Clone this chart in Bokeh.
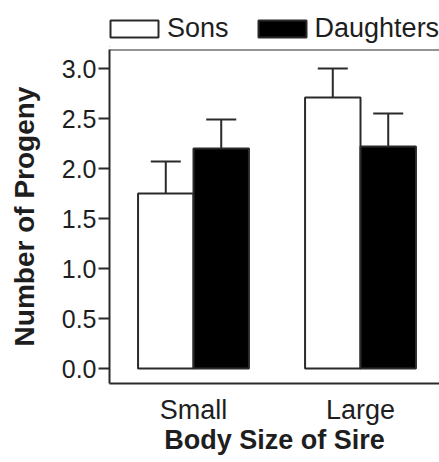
import numpy as np
from bokeh.plotting import figure
from bokeh.layouts import column
from bokeh.models import (ColumnDataSource, Range1d, FixedTicker, Whisker, TeeHead,
                          Legend, LegendItem, Span)
from bokeh.embed import file_html
from bokeh.resources import INLINE

categories = ["Small", "Large"]
sons = [1.75, 2.71]
sons_se = [0.32, 0.29]
daughters = [2.20, 2.22]
daughters_se = [0.29, 0.33]
y_ticks = [0.0, 0.5, 1.0, 1.5, 2.0, 2.5, 3.0]
series_names = ["Sons", "Daughters"]

FONT = "Liberation Sans"
LINE = "#2a2a2a"
TXT = "#1e1e1e"
x = np.arange(len(categories))
bw = 0.332
Y0, Y1 = -0.15, 3.19

src_s = ColumnDataSource(dict(x=x - bw / 2, top=sons,
                              up=np.array(sons) + np.array(sons_se)))
src_d = ColumnDataSource(dict(x=x + bw / 2, top=daughters,
                              up=np.array(daughters) + np.array(daughters_se)))

p = figure(width=439, height=415, output_backend="svg", toolbar_location=None,
           x_range=Range1d(-0.503, 1.473), y_range=Range1d(Y0, Y1),
           min_border_left=109, min_border_right=0, min_border_top=2,
           min_border_bottom=79)
p.outline_line_color = None
p.grid.grid_line_color = None

p.vbar(x="x", top="top", bottom=0, width=bw, source=src_s,
       fill_color="white", line_color=LINE, line_width=2)
p.vbar(x="x", top="top", bottom=0, width=bw, source=src_d,
       fill_color="black", line_color=LINE, line_width=2)

for src in (src_s, src_d):
    w = Whisker(base="x", lower="top", upper="up", source=src,
                line_color=LINE, line_width=2, lower_head=None,
                upper_head=TeeHead(size=30, line_color=LINE, line_width=2))
    p.add_layout(w)

p.add_layout(Span(location=Y1, dimension="width", line_color=LINE, line_width=2))

# y axis
ya = p.yaxis[0]
ya.ticker = FixedTicker(ticks=y_ticks)
ya.major_label_overrides = {t: f"{t:.1f}" for t in y_ticks}
ya.axis_line_color = LINE
ya.axis_line_width = 2
ya.major_tick_line_color = LINE
ya.major_tick_line_width = 2
ya.major_tick_out = 11
ya.major_tick_in = 0
ya.minor_tick_line_color = None
ya.major_label_text_font = FONT
ya.major_label_text_font_size = "25px"
ya.major_label_text_color = TXT
ya.major_label_standoff = 2
ya.axis_label = "Number of Progeny"
ya.axis_label_text_font = FONT
ya.axis_label_text_font_style = "bold"
ya.axis_label_text_font_size = "28px"
ya.axis_label_text_color = TXT
ya.axis_label_standoff = 19

# x axis
xa = p.xaxis[0]
xa.ticker = FixedTicker(ticks=list(x))
xa.major_label_overrides = {int(i): c for i, c in zip(x, categories)}
xa.axis_line_color = LINE
xa.axis_line_width = 2
xa.major_tick_line_color = None
xa.minor_tick_line_color = None
xa.major_label_text_font = FONT
xa.major_label_text_font_size = "27px"
xa.major_label_text_color = TXT
xa.major_label_standoff = 5
xa.axis_label = "Body Size of Sire"
xa.axis_label_text_font = FONT
xa.axis_label_text_font_style = "bold"
xa.axis_label_text_font_size = "27px"
xa.axis_label_text_color = TXT
xa.axis_label_standoff = -3

# legend strip above the plot
lf = figure(width=439, height=47, output_backend="svg", toolbar_location=None,
            x_range=Range1d(0, 1), y_range=Range1d(0, 1),
            min_border=0)
lf.axis.visible = False
lf.grid.grid_line_color = None
lf.outline_line_color = None
ls = lf.vbar(x=[-5], top=[0], width=0.1, fill_color="white", line_color=LINE, line_width=2)
ld = lf.vbar(x=[-5], top=[0], width=0.1, fill_color="black", line_color=LINE, line_width=2)
legend = Legend(items=[LegendItem(label=series_names[0], renderers=[ls]),
                       LegendItem(label=series_names[1], renderers=[ld])],
                orientation="horizontal", location=(-5, 3),
                glyph_width=60, glyph_height=21, label_standoff=3, spacing=23,
                label_text_font=FONT, label_text_font_size="27px",
                label_text_color=TXT, label_height=17,
                border_line_color=None, background_fill_alpha=0,
                padding=0, margin=0)
lf.add_layout(legend)

layout = column(lf, p, spacing=0)
open("out.html", "w").write(file_html(layout, INLINE))
